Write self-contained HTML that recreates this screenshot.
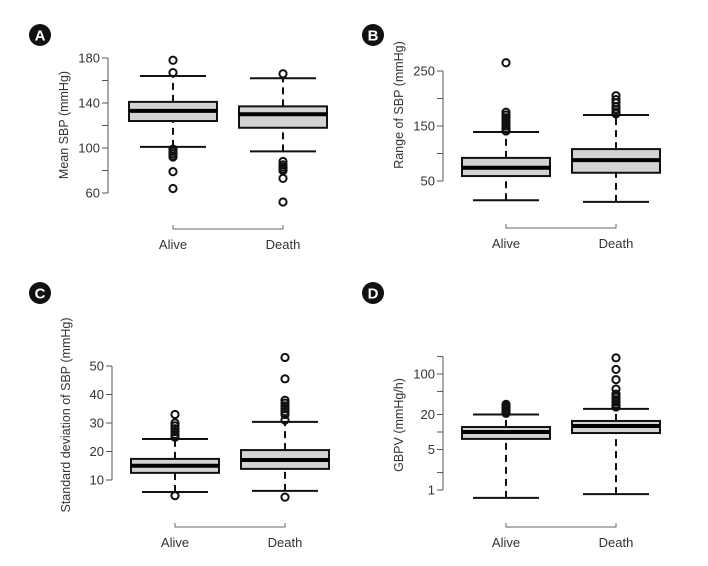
<!DOCTYPE html>
<html><head><meta charset="utf-8"><style>
body{margin:0;background:#fff;}
svg{display:block;font-family:"Liberation Sans",Arial,sans-serif;}
</style></head><body>
<svg id="s" width="708" height="566"></svg>
<script>
const groups=["Alive","Death"];
// Panel A
const aStats=[[101,124,133,141,164],[97,118,130,137,162]];
const aOut=[[178,167,99,97,95,93,92,79,64],[166,88,85,83,81,80,73,52]];
const aTicks=[60,100,140,180];const aMinor=[80,120,160];
// Panel B
const bStats=[[15,59,74,92,139],[12,65,88,108,170]];
const bOut=[[265,175,170,165,160,155,150,145,141],[205,198,192,185,180,175,172]];
const bTicks=[50,150,250];const bMinor=[100,200];
// Panel C
const cStats=[[5.8,12.5,15,17.4,24.4],[6.2,13.9,17,20.5,30.4]];
const cOut=[[4.5,33,30,29,28,27,26,25],[4,53,45.5,38,37,36,35,34,33,31]];
const cTicks=[10,20,30,40,50];const cMinor=[];
// Panel D
const dStats=[[0.73,7.6,10,12.2,20],[0.85,9.6,12.7,15.5,25]];
const dOut=[[30,28,26,24,22,21],[190,120,80,55,45,40,36,33,30,28,27]];
const dTicks=[1,5,20,100];const dMinor=[2,10,50,200];

const S=document.getElementById('s');const NS="http://www.w3.org/2000/svg";
function mk(t,a,p){const e=document.createElementNS(NS,t);for(const k in a)e.setAttribute(k,a[k]);(p||S).appendChild(e);return e;}
function panel(cfg){
 const g=mk('g',{});
 
 
 const y=v=>cfg.log? cfg.y0-(Math.log10(v)-Math.log10(cfg.v0))*cfg.k : cfg.y0-(v-cfg.v0)*cfg.k;
 const badge=mk('circle',{cx:cfg.bx,cy:cfg.by,r:11,fill:'#111'},g);
 
 const bt=mk('text',{x:cfg.bx,y:cfg.by+5.5,'text-anchor':'middle','font-size':15,'font-weight':'bold',fill:'#fff'},g);bt.textContent=cfg.id;
 
 const all=cfg.ticks.concat(cfg.minor);
 const top=y(Math.max(...all)),bot=y(Math.min(...all));
 const ax=mk('line',{x1:cfg.ax,x2:cfg.ax,y1:top,y2:bot,stroke:'#555','stroke-width':1},g);
 
 all.forEach(t=>mk('line',{x1:cfg.ax-6,x2:cfg.ax,y1:y(t),y2:y(t),stroke:'#555'},g));
 cfg.ticks.forEach(t=>{const tx=mk('text',{x:cfg.ax-8,y:y(t)+4.5,'text-anchor':'end','font-size':13,fill:'#333'},g);tx.textContent=t;
  });
 const ti=mk('text',{x:0,y:0,transform:`translate(${cfg.tx},${cfg.ty}) rotate(-90)`,'text-anchor':'middle','font-size':12.5,fill:'#333'},g);ti.textContent=cfg.title;
 
 const cx=[cfg.c1,cfg.c1+cfg.gap];
 const br=mk('path',{d:`M${cx[0]},${cfg.bry-4}V${cfg.bry}H${cx[1]}V${cfg.bry-4}`,fill:'none',stroke:'#666'},g);
 
 groups.forEach((n,i)=>{
  const lb=mk('text',{x:cx[i],y:cfg.bry+20,'text-anchor':'middle','font-size':13,fill:'#333'},g);lb.textContent=n;
  
  const s=cfg.stats[i],c=cx[i],hw=44;
  const bg=mk('g',{},g);
  
  mk('line',{x1:c,x2:c,y1:y(s[0]),y2:y(s[1]),stroke:'#111','stroke-width':2,'stroke-dasharray':'7,5'},bg);
  mk('line',{x1:c,x2:c,y1:y(s[3]),y2:y(s[4]),stroke:'#111','stroke-width':2,'stroke-dasharray':'7,5'},bg);
  mk('line',{x1:c-33,x2:c+33,y1:y(s[0]),y2:y(s[0]),stroke:'#111','stroke-width':2},bg);
  mk('line',{x1:c-33,x2:c+33,y1:y(s[4]),y2:y(s[4]),stroke:'#111','stroke-width':2},bg);
  mk('rect',{x:c-hw,y:y(s[3]),width:hw*2,height:y(s[1])-y(s[3]),fill:'#d3d3d3',stroke:'#111','stroke-width':2},bg);
  mk('line',{x1:c-hw,x2:c+hw,y1:y(s[2]),y2:y(s[2]),stroke:'#000','stroke-width':4},bg);
  cfg.out[i].forEach(v=>{const o=mk('circle',{cx:c,cy:y(v),r:3.6,fill:'none',stroke:'#111','stroke-width':2},bg);
   });
 });
}
panel({id:'A',bx:40,by:35,ax:108,y0:193,v0:60,k:45/40,ticks:aTicks,minor:aMinor,stats:aStats,out:aOut,c1:173,gap:110,bry:229,title:'Mean SBP (mmHg)',tx:68,ty:125});
panel({id:'B',bx:373,by:35,ax:443,y0:181,v0:50,k:0.55,ticks:bTicks,minor:bMinor,stats:bStats,out:bOut,c1:506,gap:110,bry:228,title:'Range of SBP (mmHg)',tx:403,ty:105});
panel({id:'C',bx:40,by:293,ax:112,y0:480,v0:10,k:2.85,ticks:cTicks,minor:cMinor,stats:cStats,out:cOut,c1:175,gap:110,bry:527,title:'Standard deviation of SBP (mmHg)',tx:70,ty:415});
panel({id:'D',bx:373,by:293,ax:443,y0:490,v0:1,k:58,log:true,ticks:dTicks,minor:dMinor,stats:dStats,out:dOut,c1:506,gap:110,bry:527,title:'GBPV (mmHg/h)',tx:403,ty:425});
</script>
</body></html>
